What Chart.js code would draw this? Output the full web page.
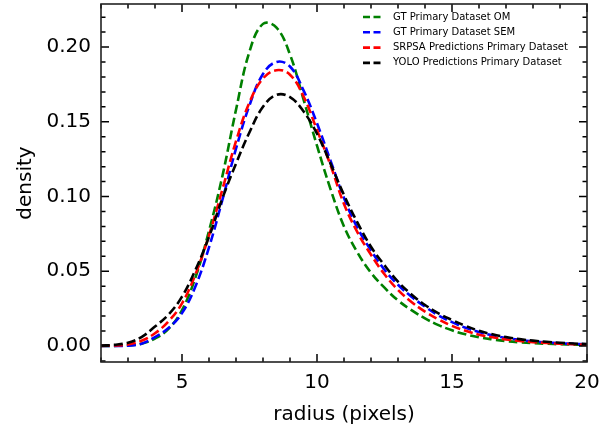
<!DOCTYPE html>
<html>
<head>
<meta charset="utf-8">
<script src="https://cdn.jsdelivr.net/npm/chart.js@4.4.1/dist/chart.umd.min.js"></script>
<style>
  body { margin: 0; background: #fff; }
  canvas { display: block; }
</style>
</head>
<body>
<canvas id="chart" width="611" height="431"></canvas>
<script>
// values, one point every 0.5 px of radius
const radius = [2, 2.5, 3, 3.5, 4, 4.5, 5, 5.5, 6, 6.5, 7, 7.5, 8, 8.5, 9, 9.5, 10, 10.5, 11, 11.5,
                12, 12.5, 13, 13.5, 14, 14.5, 15, 15.5, 16, 16.5, 17, 17.5, 18, 18.5, 19, 19.5, 20];
const gtOm = [0.0000, 0.0001, 0.0004, 0.0015, 0.0050, 0.0115, 0.0240, 0.0460, 0.0770, 0.1140, 0.1580, 0.1970,
              0.2155, 0.2130, 0.1950, 0.1650, 0.1340, 0.1050, 0.0800, 0.0625, 0.0490, 0.0390, 0.0305, 0.0240,
              0.0185, 0.0140, 0.0105, 0.0078, 0.0058, 0.0044, 0.0033, 0.0025, 0.0019, 0.0015, 0.0012, 0.0009, 0.0007];
const gtSem = [0.0000, 0.0000, 0.0002, 0.0015, 0.0060, 0.0120, 0.0220, 0.0400, 0.0660, 0.0980, 0.1320, 0.1610,
               0.1820, 0.1900, 0.1870, 0.1710, 0.1490, 0.1240, 0.0990, 0.0790, 0.0640, 0.0510, 0.0410, 0.0330,
               0.0263, 0.0205, 0.0160, 0.0122, 0.0093, 0.0071, 0.0054, 0.0041, 0.0031, 0.0024, 0.0018, 0.0014, 0.0011];
const srpsa = [0.0001, 0.0003, 0.0010, 0.0035, 0.0085, 0.0165, 0.0285, 0.0480, 0.0740, 0.1050, 0.1370, 0.1630,
               0.1790, 0.1845, 0.1815, 0.1670, 0.1445, 0.1210, 0.0950, 0.0760, 0.0610, 0.0480, 0.0375, 0.0295,
               0.0230, 0.0178, 0.0135, 0.0102, 0.0076, 0.0058, 0.0044, 0.0034, 0.0026, 0.0020, 0.0015, 0.0012, 0.0009];
const yolo = [0.0003, 0.0008, 0.0022, 0.0060, 0.0130, 0.0210, 0.0330, 0.0510, 0.0730, 0.0990, 0.1220, 0.1430,
              0.1600, 0.1680, 0.1665, 0.1570, 0.1420, 0.1220, 0.1010, 0.0825, 0.0664, 0.0540, 0.0430, 0.0345,
              0.0274, 0.0218, 0.0174, 0.0135, 0.0102, 0.0078, 0.0060, 0.0046, 0.0036, 0.0028, 0.0022, 0.0017, 0.0013];

const seriesNames = ['GT Primary Dataset OM', 'GT Primary Dataset SEM',
                     'SRPSA Predictions Primary Dataset', 'YOLO Predictions Primary Dataset'];
const seriesColors = ['#008000', '#0000ff', '#ff0000', '#000000'];
const xTicks = [5, 10, 15, 20];
const yTicks = [0, 0.05, 0.10, 0.15, 0.20];

const font = 'DejaVu Sans';

function pts(vals) {
    return radius.map((r, i) => ({ x: r, y: vals[i] }));
}

// inward ticks on all four sides, like matplotlib "direction=in"
const frameTicks = {
    id: 'frameTicks',
    afterDatasetsDraw(chart) {
        const { ctx, chartArea: a, scales: { x, y } } = chart;
        ctx.save();
        ctx.strokeStyle = '#000';
        ctx.lineWidth = 1.5;
        ctx.beginPath();
        for (let v = 2; v <= 20; v++) {
            const px = x.getPixelForValue(v);
            const len = xTicks.includes(v) ? 8 : 4.5;
            ctx.moveTo(px, a.bottom); ctx.lineTo(px, a.bottom - len);
            ctx.moveTo(px, a.top); ctx.lineTo(px, a.top + len);
        }
        for (let k = -1; k <= 22; k++) {
            const py = y.getPixelForValue(k / 100);
            const len = k % 5 === 0 ? 8 : 4.5;
            ctx.moveTo(a.left, py); ctx.lineTo(a.left + len, py);
            ctx.moveTo(a.right, py); ctx.lineTo(a.right - len, py);
        }
        ctx.stroke();
        ctx.lineWidth = 1.6;
        ctx.strokeStyle = '#222';
        ctx.strokeRect(a.left, a.top, a.right - a.left, a.bottom - a.top);
        ctx.restore();
    }
};

// legend without a frame, top right inside the axes
const innerLegend = {
    id: 'innerLegend',
    afterDraw(chart) {
        const { ctx, chartArea: a } = chart;
        ctx.save();
        ctx.font = '10px "' + font + '"';
        ctx.textBaseline = 'middle';
        ctx.fillStyle = '#000';
        chart.data.datasets.forEach((ds, i) => {
            const yy = a.top + 13 + i * 15.3;
            ctx.strokeStyle = ds.borderColor;
            ctx.lineWidth = 2.6;
            ctx.setLineDash([7, 3.5]);
            ctx.beginPath();
            ctx.moveTo(a.right - 224, yy);
            ctx.lineTo(a.right - 204, yy);
            ctx.stroke();
            ctx.setLineDash([]);
            ctx.fillText(ds.label, a.right - 194, yy);
        });
        ctx.restore();
    }
};

const ctx = document.getElementById('chart').getContext('2d');
const chart = new Chart(ctx, {
    type: 'line',
    data: {
        datasets: [gtOm, gtSem, srpsa, yolo].map((vals, i) => ({
            label: seriesNames[i],
            data: pts(vals),
            borderColor: seriesColors[i],
            borderWidth: 2.6,
            borderDash: [9, 4],
            pointRadius: 0,
            fill: false,
            tension: 0.4,
            order: 4 - i
        }))
    },
    options: {
        responsive: false,
        animation: false,
        layout: { padding: { top: 4, right: 24, left: 0, bottom: 0 } },
        plugins: {
            legend: { display: false },
            tooltip: { enabled: false }
        },
        scales: {
            x: {
                type: 'linear',
                min: 2,
                max: 20,
                grid: { display: false, drawTicks: false },
                border: { display: false },
                afterBuildTicks: s => { s.ticks = xTicks.map(v => ({ value: v })); },
                afterFit: s => { s.height = 69; s.paddingLeft = 0; s.paddingRight = 0; },
                ticks: {
                    padding: 9,
                    color: '#000',
                    font: { family: font, size: 20 },
                    maxRotation: 0,
                    callback: v => String(v)
                },
                title: {
                    display: true,
                    text: 'radius (pixels)',
                    color: '#000',
                    font: { family: font, size: 20 },
                    padding: { top: 4, bottom: 4 }
                }
            },
            y: {
                min: -0.0107,
                max: 0.2288,
                grid: { display: false, drawTicks: false },
                border: { display: false },
                afterBuildTicks: s => { s.ticks = yTicks.map(v => ({ value: v })); },
                afterFit: s => { s.width = 101; s.paddingTop = 0; s.paddingBottom = 0; },
                ticks: {
                    padding: 10,
                    color: '#000',
                    font: { family: font, size: 20 },
                    callback: v => v.toFixed(2)
                },
                title: {
                    display: true,
                    text: 'density',
                    color: '#000',
                    font: { family: font, size: 20 },
                    padding: { top: 14, bottom: 0 }
                }
            }
        }
    },
    plugins: [frameTicks, innerLegend]
});
</script>
</body>
</html>
